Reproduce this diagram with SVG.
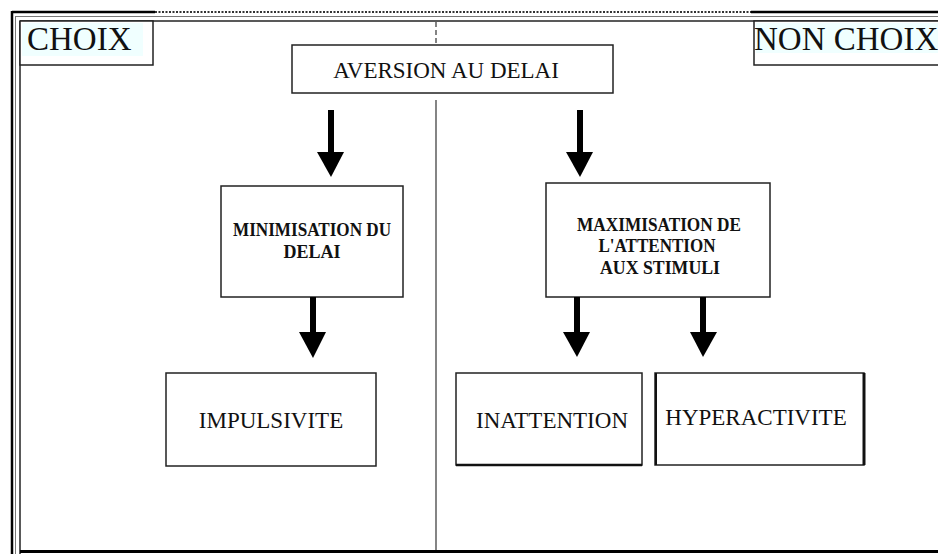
<svg xmlns="http://www.w3.org/2000/svg" width="938" height="554" viewBox="0 0 938 554">
<style>
  .box{fill:#fff;stroke:#222;stroke-width:1.5}
  .t{font-family:"Liberation Serif","Times New Roman",serif;fill:#111;text-anchor:middle}
  .big{font-size:33px;text-anchor:start}
  .mid{font-size:23px}
  .sm{font-size:18px;font-weight:bold}
  .shaft{stroke:#000;stroke-width:6;fill:none}
  .head{fill:#000}
</style>
<rect width="938" height="554" fill="#fff"/>
<g id="frame">
  <line x1="12" y1="12" x2="155" y2="12" stroke="#000" stroke-width="2.5"/>
  <line x1="155" y1="12" x2="751" y2="12" stroke="#333" stroke-width="2" stroke-dasharray="2,1.5"/>
  <line x1="751" y1="12" x2="938" y2="12" stroke="#000" stroke-width="2.5"/>
  <line x1="15" y1="16.5" x2="938" y2="16.5" stroke="#777" stroke-width="1"/>
  <line x1="20" y1="21" x2="938" y2="21" stroke="#222" stroke-width="1.5"/>
  <line x1="12" y1="11" x2="12" y2="554" stroke="#000" stroke-width="2.5"/>
  <line x1="15.5" y1="16" x2="15.5" y2="554" stroke="#777" stroke-width="1"/>
  <line x1="20" y1="21" x2="20" y2="554" stroke="#222" stroke-width="1.5"/>
  <line x1="20" y1="551.5" x2="938" y2="551.5" stroke="#000" stroke-width="3"/>
  <line x1="436" y1="22" x2="436" y2="45" stroke="#333" stroke-width="1.2" stroke-dasharray="5,3"/>
  <line x1="436" y1="100" x2="436" y2="550" stroke="#333" stroke-width="1.2"/>
</g>
<g id="choix">
  <rect x="20" y="21" width="133" height="44" class="box"/>
  <rect x="22" y="23" width="121" height="33" fill="#f0ffff"/>
  <text x="27" y="50" class="t big">CHOIX</text>
</g>
<g id="nonchoix">
  <rect x="754" y="21" width="190" height="44" class="box"/>
  <rect x="756" y="23" width="182" height="30" fill="#f0ffff"/>
  <text x="754" y="50" class="t big">NON CHOIX</text>
</g>
<g id="aversion">
  <rect x="292" y="45" width="321" height="48" class="box"/>
  <text x="446" y="78" class="t mid">AVERSION AU DELAI</text>
</g>
<g id="minimisation">
  <rect x="221" y="186" width="182" height="111" class="box"/>
  <text x="312" y="236" class="t sm" textLength="158" lengthAdjust="spacingAndGlyphs">MINIMISATION DU</text>
  <text x="312" y="258" class="t sm">DELAI</text>
</g>
<g id="maximisation">
  <rect x="546" y="183" width="224" height="114" class="box"/>
  <text x="659" y="231" class="t sm" textLength="164" lengthAdjust="spacingAndGlyphs">MAXIMISATION DE</text>
  <text x="657" y="252" class="t sm" textLength="117" lengthAdjust="spacingAndGlyphs">L'ATTENTION</text>
  <text x="660" y="274" class="t sm" textLength="120" lengthAdjust="spacingAndGlyphs">AUX STIMULI</text>
</g>
<g id="impulsivite">
  <rect x="166" y="373" width="210" height="93" class="box"/>
  <text x="271" y="428" class="t mid">IMPULSIVITE</text>
</g>
<g id="inattention">
  <rect x="456" y="373" width="186" height="92" class="box"/>
  <line x1="456" y1="465" x2="642" y2="465" stroke="#111" stroke-width="2.5"/>
  <text x="552" y="428" class="t mid">INATTENTION</text>
</g>
<g id="hyperactivite">
  <rect x="655" y="373" width="209" height="92" class="box"/>
  <line x1="864" y1="373" x2="864" y2="465" stroke="#111" stroke-width="3"/>
  <line x1="656" y1="373" x2="656" y2="465" stroke="#111" stroke-width="2"/>
  <text x="756" y="425" class="t mid">HYPERACTIVITE</text>
</g>
<g id="connectors">
  <line x1="331" y1="110" x2="331" y2="153" class="shaft"/>
  <polygon points="317,152 344,152 331,177" class="head"/>
  <line x1="580" y1="110" x2="580" y2="153" class="shaft"/>
  <polygon points="566,152 593,152 580,177" class="head"/>
  <line x1="313" y1="297" x2="313" y2="333" class="shaft"/>
  <polygon points="299,332 326,332 313,358" class="head"/>
  <line x1="577" y1="297" x2="577" y2="333" class="shaft"/>
  <polygon points="563,332 590,332 577,357" class="head"/>
  <line x1="703" y1="297" x2="703" y2="333" class="shaft"/>
  <polygon points="690,332 717,332 703,357" class="head"/>
</g>
</svg>
